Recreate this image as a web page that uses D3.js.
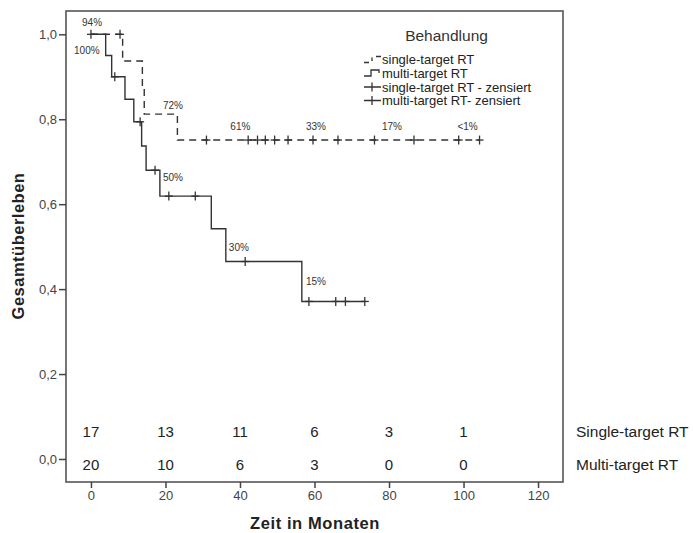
<!DOCTYPE html>
<html><head><meta charset="utf-8">
<script src="https://cdn.jsdelivr.net/npm/d3@7"></script>
<style>body{margin:0;background:#fff}svg{display:block}</style>
</head><body><svg id="c" width="693" height="533"></svg>
<script>
// ---- data ----
const seriesNames = ["single-target RT", "multi-target RT"];
// event times (months) and survival after the step
const singleTimes = [8.5, 13.8, 14.3, 23.2];
const singleSurv  = [0.937, 0.873, 0.812, 0.751];
const singleCens  = [7.8, 31.0, 42.2, 44.7, 46.8, 49.3, 52.9, 59.6, 66.3, 76.1, 86.7, 98.7, 104.3];
const multiTimes = [3.95, 5.56, 9.13, 11.5, 13.6, 14.8, 18.5, 32.3, 36.2, 56.6];
const multiSurv  = [0.950, 0.900, 0.847, 0.794, 0.737, 0.680, 0.619, 0.542, 0.465, 0.371];
const multiCens  = [0, 6.4, 13.2, 17.2, 20.9, 28.0, 41.4, 58.5, 65.7, 68.3, 73.5];
// percentage annotations: text, time, survival position
const pctLabels = ["94%", "100%", "72%", "61%", "33%", "17%", "<1%", "50%", "30%", "15%"];
const pctTime   = [0.3, -1.1, 22, 40.1, 60.4, 80.8, 101.1, 22, 39.7, 60.4];
const pctSurv   = [1.027, 0.961, 0.832, 0.784, 0.784, 0.784, 0.784, 0.662, 0.497, 0.419];
// numbers at risk
const riskTimes  = [0, 20, 40, 60, 80, 100];
const riskSingle = [17, 13, 11, 6, 3, 1];
const riskMulti  = [20, 10, 6, 3, 0, 0];
const riskNames  = ["Single-target RT", "Multi-target RT"];
const xTicks = [0, 20, 40, 60, 80, 100, 120];
const yTicks = [0, 0.2, 0.4, 0.6, 0.8, 1.0];
const legendTitle = "Behandlung";
const legendLabels = ["single-target RT", "multi-target RT", "single-target RT - zensiert", "multi-target RT- zensiert"];

// ---- layout ----
const svg = d3.select("#c");
const L = 66, R = 563, T = 11, B = 482;
const x = d3.scaleLinear().domain([-6.7, 126.7]).range([L, R]);
const y = d3.scaleLinear().domain([-0.0542, 1.0549]).range([B, T]);
const ink = "#333";
const font = "'Liberation Sans', Arial, sans-serif";

// frame
svg.append("rect").attr("x", L).attr("y", T).attr("width", R - L).attr("height", B - T)
  .attr("fill", "none").attr("stroke", "#555").attr("stroke-width", 1.6);

// axes
const fmt = d => d3.format(".1f")(d).replace(".", ",");
const gy = svg.append("g").attr("transform", `translate(${L},0)`)
  .call(d3.axisLeft(y).tickValues(yTicks).tickFormat(fmt).tickSize(7).tickPadding(2));
const gx = svg.append("g").attr("transform", `translate(0,${B})`)
  .call(d3.axisBottom(x).tickValues(xTicks).tickFormat(d3.format("d")).tickSize(6).tickPadding(3));
[gx, gy].forEach(g => {
  g.select(".domain").remove();
  g.selectAll(".tick line").attr("stroke", "#444").attr("stroke-width", 1.5);
  g.selectAll("text").attr("fill", "#444").style("font-family", font).style("font-size", "13px");
});

// axis titles
svg.append("text").attr("x", 315).attr("y", 529).attr("text-anchor", "middle")
  .style("font-family", font).style("font-size", "16.5px").style("font-weight", "bold")
  .style("letter-spacing", "0.6px").attr("fill", "#222")
  .text("Zeit in Monaten");
svg.append("text").attr("transform", "translate(24,246) rotate(-90)").attr("text-anchor", "middle")
  .style("font-family", font).style("font-size", "16.5px").style("font-weight", "bold")
  .style("letter-spacing", "0.5px").attr("fill", "#222")
  .text("Gesamtüberleben");

// curves
function stepPoints(times, surv, end) {
  const pts = [[0, 1]];
  times.forEach((t, i) => pts.push([t, surv[i]]));
  pts.push([end, surv[surv.length - 1]]);
  return pts;
}
function survAt(times, surv, t) {
  let s = 1;
  times.forEach((tt, i) => { if (tt <= t) s = surv[i]; });
  return s;
}
const line = d3.line().x(d => x(d[0])).y(d => y(d[1])).curve(d3.curveStepAfter);
const series = [
  {times: singleTimes, surv: singleSurv, cens: singleCens, dash: "7,5"},
  {times: multiTimes, surv: multiSurv, cens: multiCens, dash: null}
];
series.forEach(s => {
  const end = d3.max(s.cens);
  svg.append("path").datum(stepPoints(s.times, s.surv, end)).attr("d", line)
    .attr("fill", "none").attr("stroke", ink).attr("stroke-width", 1.4)
    .attr("stroke-dasharray", s.dash);
  const g = svg.append("g");
  s.cens.forEach(t => {
    const cx = x(t), cy = y(survAt(s.times, s.surv, t));
    g.append("line").attr("x1", cx).attr("x2", cx).attr("y1", cy - 4.5).attr("y2", cy + 4.5)
      .attr("stroke", ink).attr("stroke-width", 1.3);
    g.append("line").attr("x1", cx - 4).attr("x2", cx + 4).attr("y1", cy).attr("y2", cy)
      .attr("stroke", ink).attr("stroke-width", 1.3);
  });
});

// percentage labels
pctLabels.forEach((t, i) => {
  svg.append("text").attr("x", x(pctTime[i])).attr("y", y(pctSurv[i])).attr("dy", "0.35em")
    .attr("text-anchor", "middle").style("font-family", font).style("font-size", "10px")
    .attr("fill", "#333").text(t);
});

// risk table
[riskSingle, riskMulti].forEach((row, r) => {
  const yy = r === 0 ? 432 : 465;
  row.forEach((v, i) => {
    svg.append("text").attr("x", x(riskTimes[i])).attr("y", yy).attr("dy", "0.35em")
      .attr("text-anchor", "middle").style("font-family", font).style("font-size", "15px")
      .attr("fill", "#222").text(v);
  });
  svg.append("text").attr("x", 576).attr("y", yy).attr("dy", "0.35em")
    .style("font-family", font).style("font-size", "15.5px").attr("fill", "#222").text(riskNames[r]);
});

// legend
svg.append("text").attr("x", 446.5).attr("y", 36).attr("dy", "0.35em").attr("text-anchor", "middle")
  .style("font-family", font).style("font-size", "15.5px").attr("fill", "#333").text(legendTitle);
const lg = svg.append("g").attr("transform", "translate(364,0)");
const rows = [59.5, 73, 87, 100.5];
// row 1: dashed step
lg.append("path").attr("d", `M0,${rows[0]+3}H5 M8,${rows[0]+1.5}V${rows[0]-2} M12,${rows[0]-3}H17`)
  .attr("fill", "none").attr("stroke", ink).attr("stroke-width", 1.3);
// row 2: solid step
lg.append("path").attr("d", `M0,${rows[1]+3}H7V${rows[1]-3}H15V${rows[1]}`)
  .attr("fill", "none").attr("stroke", ink).attr("stroke-width", 1.3);
// rows 3-4: censor symbols
[rows[2], rows[3]].forEach(ry => {
  lg.append("path").attr("d", `M0,${ry}H17 M8,${ry-4.5}V${ry+4.5}`)
    .attr("fill", "none").attr("stroke", ink).attr("stroke-width", 1.3);
});
legendLabels.forEach((t, i) => {
  lg.append("text").attr("x", 18).attr("y", rows[i]).attr("dy", "0.35em")
    .style("font-family", font).style("font-size", "13px").attr("fill", "#222").text(t);
});
</script></body></html>
